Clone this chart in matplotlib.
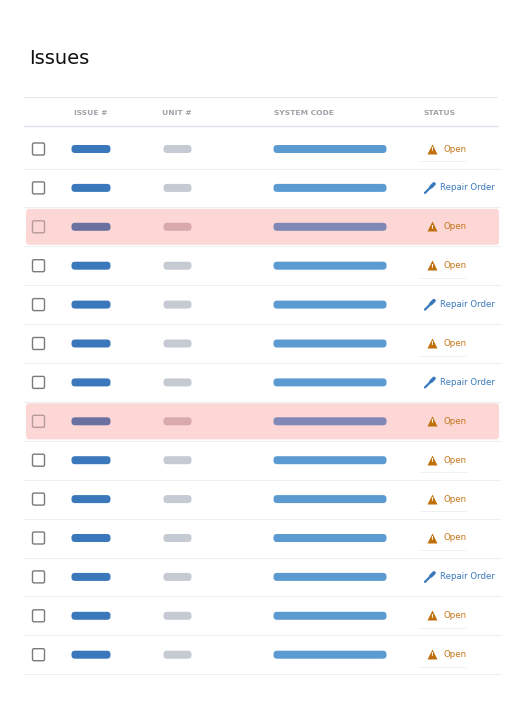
import matplotlib
matplotlib.use("Agg")
import matplotlib.pyplot as plt
from matplotlib.patches import FancyBboxPatch

columns = ["ISSUE #", "UNIT #", "SYSTEM CODE", "STATUS"]
statuses = ["Open", "Repair Order", "Open", "Open", "Repair Order", "Open", "Repair Order",
            "Open", "Open", "Open", "Open", "Repair Order", "Open", "Open"]
flagged = [False, False, True, False, False, False, False, True, False, False, False, False, False, False]

fig = plt.figure(figsize=(5.22, 7.08), dpi=100)
ax = fig.add_axes([0, 0, 1, 1])
ax.set_xlim(0, 522); ax.set_ylim(708, 0); ax.axis("off")

ax.text(29, 58, "Issues", fontsize=14, va="center", ha="left", color="#111111")
ax.plot([24, 497], [97, 97], color="#e6e8ec", lw=0.8)
ax.plot([24, 497], [126, 126], color="#dde1e8", lw=1)
for x, c in zip([74, 162, 274, 423], columns):
    ax.text(x, 113, c, fontsize=5.4, color="#9ea2a8", va="center", ha="left", fontweight="semibold")

def pill(x0, x1, y, color):
    ax.add_patch(FancyBboxPatch((x0 + 4, y - 0.5), x1 - x0 - 8, 1,
                                boxstyle="round,pad=3.5", fc=color, ec="none"))

y0, dy = 149, 38.9
for i, (st, fl) in enumerate(zip(statuses, flagged)):
    y = y0 + i * dy
    if fl:
        ax.add_patch(FancyBboxPatch((26, y - 18), 473, 36, boxstyle="round,pad=0,rounding_size=3",
                                    fc="#fdd6d6", ec="none"))
    ax.plot([24, 500], [y + 19.5, y + 19.5], color="#eceef2", lw=0.8)
    ax.add_patch(FancyBboxPatch((32.5, y - 6), 12, 12, boxstyle="round,pad=0,rounding_size=1.5",
                                fc="none", ec="#b79a9a" if fl else "#7a7a7a", lw=1))
    pill(71, 111, y, "#6a70a0" if fl else "#3a78bb")
    pill(163, 192, y, "#d8aab0" if fl else "#c5cad3")
    pill(273, 387, y, "#8088b5" if fl else "#5b9bd2")
    if st == "Open":
        ax.plot([432], [y - 0.5], marker="^", ms=7, color="#c0700a", mec="none")
        ax.text(432, y + 0.3, "!", fontsize=4.5, color="white", ha="center", va="center", fontweight="bold")
        ax.text(443, y, "Open", fontsize=6.2, color="#c7761a", ha="left", va="center")
        if not fl:
            ax.plot([420, 466], [y + 12, y + 12], color="#eeeeee", lw=0.6)
    else:
        ax.plot([425, 431], [y + 5, y - 1], color="#3a78bb", lw=1.6, solid_capstyle="round")
        ax.plot([431, 434], [y - 1, y - 4], color="#3a78bb", lw=2.6, solid_capstyle="round")
        ax.text(440, y, "Repair Order", fontsize=6.2, color="#3a78bb", ha="left", va="center")

fig.savefig("out.png", dpi=100, facecolor="white")
